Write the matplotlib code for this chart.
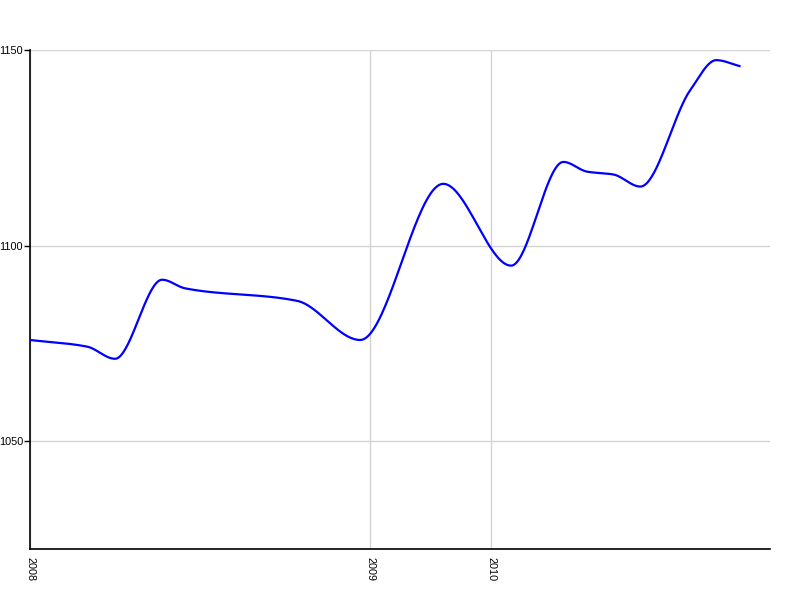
import numpy as np
from matplotlib import pyplot as plt

# knots of the smoothed series (x in period index, y in value)
xs = [0, 2.34, 3.48, 5.41, 6.35, 10.94, 13.52, 16.92, 19.70, 21.84, 22.82, 23.88, 24.99, 27.04, 28.10, 29.05]
ys = [1075.9, 1074.2, 1071.1, 1091.3, 1089.1, 1085.9, 1075.9, 1115.8, 1094.9, 1121.4, 1118.9, 1118.2, 1115.1, 1139.8, 1147.4, 1145.9]
year_pos = [0, 13.93, 18.89]
year_labels = ['2008', '2009', '2010']
yticks = [1050, 1100, 1150]


def monotone(x, y, n=40):
    # monotone cubic (fritsch-carlson) like the smoothed line renderer
    x = np.asarray(x, float)
    y = np.asarray(y, float)
    h = np.diff(x)
    d = np.diff(y) / h
    m = np.zeros_like(y)
    m[0] = d[0]
    m[-1] = d[-1]
    for k in range(1, len(x) - 1):
        if d[k - 1] * d[k] > 0:
            w1 = 2 * h[k] + h[k - 1]
            w2 = h[k] + 2 * h[k - 1]
            m[k] = (w1 + w2) / (w1 / d[k - 1] + w2 / d[k])
    px, py = [], []
    for k in range(len(x) - 1):
        t = np.linspace(0, 1, n, endpoint=False)
        h00 = 2*t**3 - 3*t**2 + 1
        h10 = t**3 - 2*t**2 + t
        h01 = -2*t**3 + 3*t**2
        h11 = t**3 - t**2
        px.append(x[k] + t * h[k])
        py.append(h00*y[k] + h10*h[k]*m[k] + h01*y[k+1] + h11*h[k]*m[k+1])
    px.append([x[-1]])
    py.append([y[-1]])
    return np.concatenate(px), np.concatenate(py)


plt.rcParams['font.family'] = 'Liberation Sans'
fig = plt.figure(figsize=(8, 6), dpi=100)
ax = fig.add_axes([0.0375, 0.085, 0.925, 0.8317])

sx, sy = monotone(xs, ys)
ax.plot(sx, sy, color='#0000ff', linewidth=1.6, zorder=3)

ax.set_xlim(0, 30.3)
ax.set_ylim(1022.5, 1150)
ax.set_yticks(yticks)
ax.set_yticklabels([str(v) for v in yticks], fontsize=7.8)
ax.set_xticks(year_pos)
ax.set_xticklabels(year_labels, rotation=270, fontsize=7.8, va='top', ha='center')
ax.tick_params(axis='x', length=0, pad=6)
ax.tick_params(axis='y', length=4, width=1, pad=1, direction='out')

ax.grid(True, color='#d4d4d4', linewidth=1)
ax.set_axisbelow(True)
for s in ['top', 'right']:
    ax.spines[s].set_visible(False)
for s in ['left', 'bottom']:
    ax.spines[s].set_linewidth(1.2)
    ax.spines[s].set_color('black')

fig.savefig('out.png', dpi=100)
